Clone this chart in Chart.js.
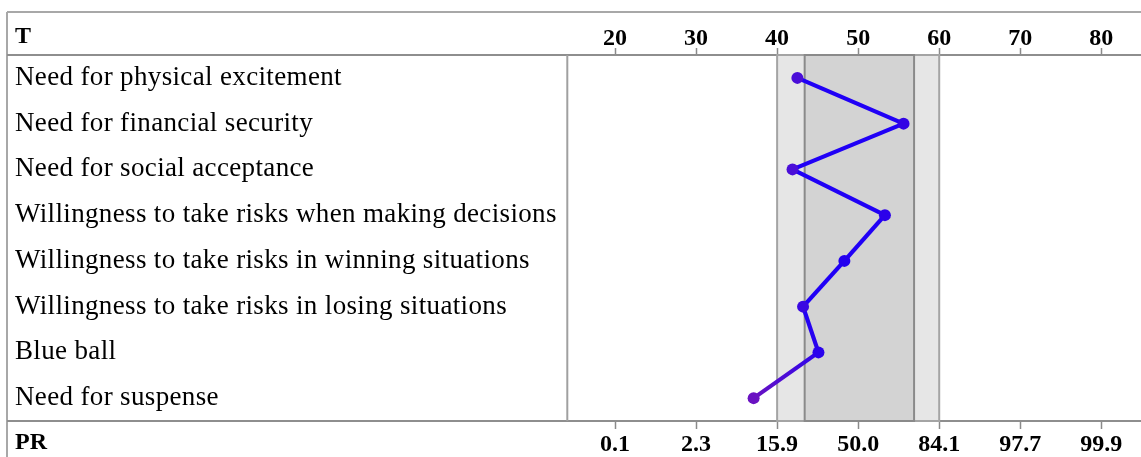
<!DOCTYPE html>
<html>
<head>
<meta charset="utf-8">
<title>Risk profile</title>
<script src="https://cdn.jsdelivr.net/npm/chart.js@4/dist/chart.umd.min.js"></script>
<style>
  html, body { margin: 0; padding: 0; background: #fff; overflow: hidden; }
  canvas { display: block; }
</style>
</head>
<body>
<canvas id="profile" width="1141" height="457"></canvas>
<script>
// Scales of the profile, top to bottom
const scaleNames = [
  'Need for physical excitement',
  'Need for financial security',
  'Need for social acceptance',
  'Willingness to take risks when making decisions',
  'Willingness to take risks in winning situations',
  'Willingness to take risks in losing situations',
  'Blue ball',
  'Need for suspense'
];

// T scores per scale
const tScores = [42.5, 55.6, 41.9, 53.3, 48.3, 43.2, 45.1, 37.1];

// Axis ticks: T values on top, matching percentile ranks at the bottom
const tTicks = [20, 30, 40, 50, 60, 70, 80];
const prTicks = ['0.1', '2.3', '15.9', '50.0', '84.1', '97.7', '99.9'];

// Shaded reference ranges on the T scale
const outerBand = [40, 60];
const innerBand = [43.4, 56.9];

// Marker and line colours per scale
const pointColors = ['#4a0ed8', '#3204e4', '#4a0ed8', '#2c02ea', '#2400ee', '#3a08e2', '#2a02ec', '#6a12c2'];
const lineColors  = ['#2000f6', '#2000f6', '#2000f6', '#2000f6', '#2000f6', '#2000f6', '#2c04ec', '#6a12c2'];

const T_MIN = 14.11;
const T_MAX = 84.9;

const serif = '"Liberation Serif", "Times New Roman", Times, serif';

// Table frame around the profile plus the "T" / "PR" row headers
const framePlugin = {
  id: 'frame',
  beforeDatasetsDraw(chart) {
    const { ctx, chartArea: a, width, height } = chart;
    ctx.save();
    ctx.lineCap = 'butt';
    ctx.strokeStyle = '#a8a8a8';
    ctx.lineWidth = 2;
    ctx.beginPath();
    ctx.moveTo(7, 12); ctx.lineTo(width, 12);
    ctx.moveTo(7, 12); ctx.lineTo(7, height);
    ctx.stroke();

    ctx.strokeStyle = '#8e8e8e';
    ctx.beginPath();
    ctx.moveTo(7, a.top); ctx.lineTo(width, a.top);
    ctx.moveTo(7, a.bottom); ctx.lineTo(width, a.bottom);
    ctx.stroke();

    ctx.strokeStyle = '#a0a0a0';
    ctx.beginPath();
    ctx.moveTo(a.left, a.top); ctx.lineTo(a.left, a.bottom);
    ctx.stroke();

    ctx.fillStyle = '#000';
    ctx.font = 'bold 24px ' + serif;
    ctx.textBaseline = 'middle';
    ctx.textAlign = 'left';
    ctx.fillText('T', 15, 37);
    ctx.fillText('PR', 15, 443);
    ctx.restore();
  }
};

// Reference ranges drawn behind the profile line
const bandPlugin = {
  id: 'bands',
  beforeDatasetsDraw(chart) {
    const { ctx, chartArea: a } = chart;
    const x = chart.scales.x;
    const drawBand = (range, fill, stroke) => {
      const x0 = x.getPixelForValue(range[0]);
      const x1 = x.getPixelForValue(range[1]);
      ctx.fillStyle = fill;
      ctx.fillRect(x0, a.top, x1 - x0, a.bottom - a.top);
      ctx.strokeStyle = stroke;
      ctx.lineWidth = 2;
      ctx.strokeRect(x0, a.top, x1 - x0, a.bottom - a.top);
    };
    ctx.save();
    drawBand(outerBand, '#e6e6e6', '#a4a4a4');
    drawBand(innerBand, '#d3d3d3', '#8a8a8a');
    ctx.restore();
  }
};

// Slightly widened lettering for the scale names
const spacedLabelsPlugin = {
  id: 'spacedLabels',
  afterLayout(chart) {
    const y = chart.scales.y;
    if (!y || y._spaced) return;
    const draw = y.drawLabels.bind(y);
    y.drawLabels = (area) => {
      const ctx = chart.ctx;
      ctx.save();
      ctx.letterSpacing = '0.35px';
      draw(area);
      ctx.letterSpacing = '0px';
      ctx.restore();
    };
    y._spaced = true;
  }
};

const tickFont = { family: serif, size: 24, weight: 'bold', lineHeight: 0.9 };

new Chart(document.getElementById('profile'), {
  type: 'line',
  data: {
    labels: scaleNames,
    datasets: [{
      data: tScores,
      xAxisID: 'x',
      yAxisID: 'y',
      borderWidth: 4.2,
      borderColor: lineColors[0],
      pointRadius: 6,
      pointBorderWidth: 0,
      pointBackgroundColor: pointColors,
      tension: 0,
      segment: {
        borderColor: (c) => {
          const g = c.chart.ctx.createLinearGradient(c.p0.x, c.p0.y, c.p1.x, c.p1.y);
          g.addColorStop(0, lineColors[c.p0DataIndex]);
          g.addColorStop(1, lineColors[c.p1DataIndex]);
          return g;
        }
      }
    }]
  },
  options: {
    indexAxis: 'y',
    responsive: false,
    animation: false,
    events: [],
    layout: { autoPadding: false, padding: { left: 15, right: 0, top: 0, bottom: 0 } },
    scales: {
      x: {
        type: 'linear',
        position: 'top',
        min: T_MIN,
        max: T_MAX,
        afterBuildTicks: (s) => { s.ticks = tTicks.map(v => ({ value: v })); },
        afterFit: (s) => { s.height = 55; },
        border: { display: false },
        grid: { drawOnChartArea: false, drawTicks: true, tickLength: 7, tickWidth: 1.5, tickColor: '#8a8a8a' },
        ticks: { font: tickFont, color: '#000', padding: -2, autoSkip: false, maxRotation: 0 }
      },
      x2: {
        type: 'linear',
        position: 'bottom',
        min: T_MIN,
        max: T_MAX,
        afterBuildTicks: (s) => { s.ticks = tTicks.map(v => ({ value: v })); },
        afterFit: (s) => { s.height = 36; },
        border: { display: false },
        grid: { drawOnChartArea: false, drawTicks: true, tickLength: 8, tickWidth: 1.5, tickColor: '#8a8a8a' },
        ticks: {
          font: tickFont, color: '#000', padding: 5, autoSkip: false, maxRotation: 0,
          callback: (v, i) => prTicks[i]
        }
      },
      y: {
        type: 'category',
        position: 'left',
        offset: true,
        afterFit: (s) => { s.width = 567.3 - 15; },
        border: { display: false },
        grid: { display: false, drawTicks: false },
        ticks: { crossAlign: 'far', padding: 0, font: { family: serif, size: 27, lineHeight: 1 }, color: '#000' }
      }
    },
    plugins: { legend: { display: false }, tooltip: { enabled: false } }
  },
  plugins: [framePlugin, bandPlugin, spacedLabelsPlugin]
});
</script>
</body>
</html>
